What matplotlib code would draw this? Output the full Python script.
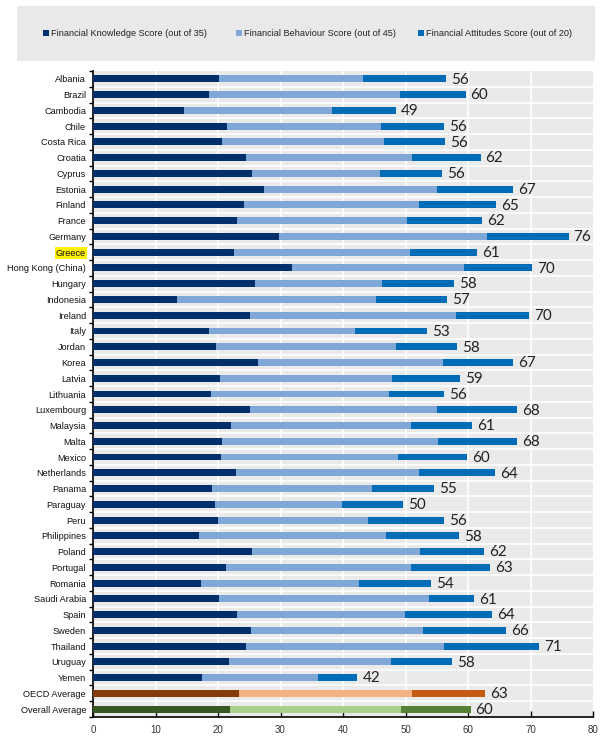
import matplotlib
matplotlib.use("Agg")
import matplotlib.pyplot as plt
from matplotlib.patches import Rectangle
import numpy as np

countries = ["Albania", "Brazil", "Cambodia", "Chile", "Costa Rica", "Croatia", "Cyprus",
             "Estonia", "Finland", "France", "Germany", "Greece", "Hong Kong (China)",
             "Hungary", "Indonesia", "Ireland", "Italy", "Jordan", "Korea", "Latvia",
             "Lithuania", "Luxembourg", "Malaysia", "Malta", "Mexico", "Netherlands",
             "Panama", "Paraguay", "Peru", "Philippines", "Poland", "Portugal", "Romania",
             "Saudi Arabia", "Spain", "Sweden", "Thailand", "Uruguay", "Yemen",
             "OECD Average", "Overall Average"]

knowledge = [20.1, 18.6, 14.5, 21.5, 20.7, 24.5, 25.5, 27.4, 24.2, 23.1, 29.8, 22.6, 31.9,
             25.9, 13.4, 25.1, 18.5, 19.6, 26.4, 20.3, 18.9, 25.1, 22.1, 20.6, 20.5, 22.9,
             19.1, 19.5, 20.0, 16.9, 25.5, 21.2, 17.3, 20.1, 23.0, 25.2, 24.4, 21.8, 17.5,
             23.3, 21.9]
behaviour = [23.1, 30.5, 23.8, 24.6, 25.9, 26.6, 20.4, 27.6, 28.0, 27.2, 33.2, 28.1, 27.5,
             20.4, 31.9, 33.0, 23.4, 28.9, 29.6, 27.5, 28.4, 30.0, 28.8, 34.6, 28.3, 29.2,
             25.5, 20.4, 24.0, 30.0, 26.8, 29.6, 25.2, 33.6, 26.9, 27.6, 31.7, 25.9, 18.5,
             27.8, 27.4]
attitudes = [13.3, 10.5, 10.2, 10.0, 9.8, 10.9, 9.9, 12.2, 12.3, 11.9, 13.1, 10.7, 10.8,
             11.4, 11.4, 11.7, 11.5, 9.7, 11.2, 10.9, 8.8, 12.7, 9.8, 12.6, 11.0, 12.3,
             9.9, 9.7, 12.2, 11.6, 10.2, 12.7, 11.6, 7.3, 14.0, 13.3, 15.3, 9.8, 6.3,
             11.6, 11.1]
total_labels = [56, 60, 49, 56, 56, 62, 56, 67, 65, 62, 76, 61, 70, 58, 57, 70, 53, 58, 67,
                59, 56, 68, 61, 68, 60, 64, 55, 50, 56, 58, 62, 63, 54, 61, 64, 66, 71, 58,
                42, 63, 60]
series_names = ["Financial Knowledge Score (out of 35)",
                "Financial Behaviour Score (out of 45)",
                "Financial Attitudes Score (out of 20)"]
x_ticks = [0, 10, 20, 30, 40, 50, 60, 70, 80]

blue_cols = ["#002F6C", "#7FA8D9", "#006BB6"]
oecd_cols = ["#843C0C", "#F4B183", "#C55A11"]
overall_cols = ["#385723", "#A9D18E", "#548235"]

narrow = ["Liberation Sans Narrow", "Liberation Sans", "DejaVu Sans"]

W, H = 607, 743
fig = plt.figure(figsize=(W / 100, H / 100), dpi=100)
fig.patch.set_facecolor("white")

# legend box
fig.patches.append(Rectangle((17 / W, 1 - 61 / H), (595 - 17) / W, (61 - 6) / H,
                             transform=fig.transFigure, facecolor="#E9E9E9",
                             edgecolor="none", zorder=0))

ax = fig.add_axes([93 / W, 1 - 717 / H, (593 - 93) / W, (717 - 71) / H])
ax.set_facecolor("#EAEAEA")

n = len(countries)
y = np.arange(n)
k = np.array(knowledge)
b = np.array(behaviour)
a = np.array(attitudes)
h = 0.44

for i in range(n):
    if countries[i] == "OECD Average":
        cols = oecd_cols
    elif countries[i] == "Overall Average":
        cols = overall_cols
    else:
        cols = blue_cols
    ax.barh(y[i], k[i], left=0, height=h, color=cols[0], zorder=3)
    ax.barh(y[i], b[i], left=k[i], height=h, color=cols[1], zorder=3)
    ax.barh(y[i], a[i], left=k[i] + b[i], height=h, color=cols[2], zorder=3)
    ax.text(k[i] + b[i] + a[i] + 0.8, y[i] + 0.05, str(total_labels[i]),
            va="center", ha="left", fontsize=11, family=["Lato", "DejaVu Sans"],
            color="#222222", zorder=4)

ax.set_xlim(0, 80)
ax.set_ylim(n - 0.5, -0.5)
ax.set_xticks(x_ticks)
ax.set_xticklabels([str(t) for t in x_ticks], fontsize=7, family=narrow, color="#333333")
ax.set_yticks(y)
ax.set_yticklabels(countries, fontsize=6.6, family=narrow, color="#111111")
ax.tick_params(axis="y", length=0, pad=5)
ax.tick_params(axis="x", length=4, direction="in", width=1, pad=6)
ax.set_yticks(np.arange(-0.5, n, 1), minor=True)
ax.tick_params(axis="y", which="minor", length=3, direction="out", width=1)

for t in ax.get_yticklabels():
    if t.get_text() == "Greece":
        t.set_bbox(dict(facecolor="#FFF200", edgecolor="none", pad=1))

# grid: white vertical lines and row separators
for xv in x_ticks[1:-1]:
    ax.axvline(xv, color="white", lw=1.2, zorder=1)
for yb in np.arange(0.5, n - 0.5, 1):
    ax.axhline(yb, color="white", lw=1.2, zorder=1)

for s in ["top", "right"]:
    ax.spines[s].set_visible(False)
ax.spines["left"].set_color("black")
ax.spines["bottom"].set_color("black")
ax.spines["left"].set_linewidth(1.2)
ax.spines["bottom"].set_linewidth(1.2)

# legend
lx = [46, 239, 421]
for j in range(3):
    fig.patches.append(Rectangle(((lx[j] - 3) / W, 1 - 36 / H), 6 / W, 6 / H,
                                 transform=fig.transFigure, facecolor=blue_cols[j],
                                 edgecolor="none", zorder=2))
    fig.text((lx[j] + 5) / W, 1 - 33 / H, series_names[j], fontsize=6.6,
             family=narrow, va="center", ha="left", color="#222222")

fig.savefig("out.png", dpi=100)
